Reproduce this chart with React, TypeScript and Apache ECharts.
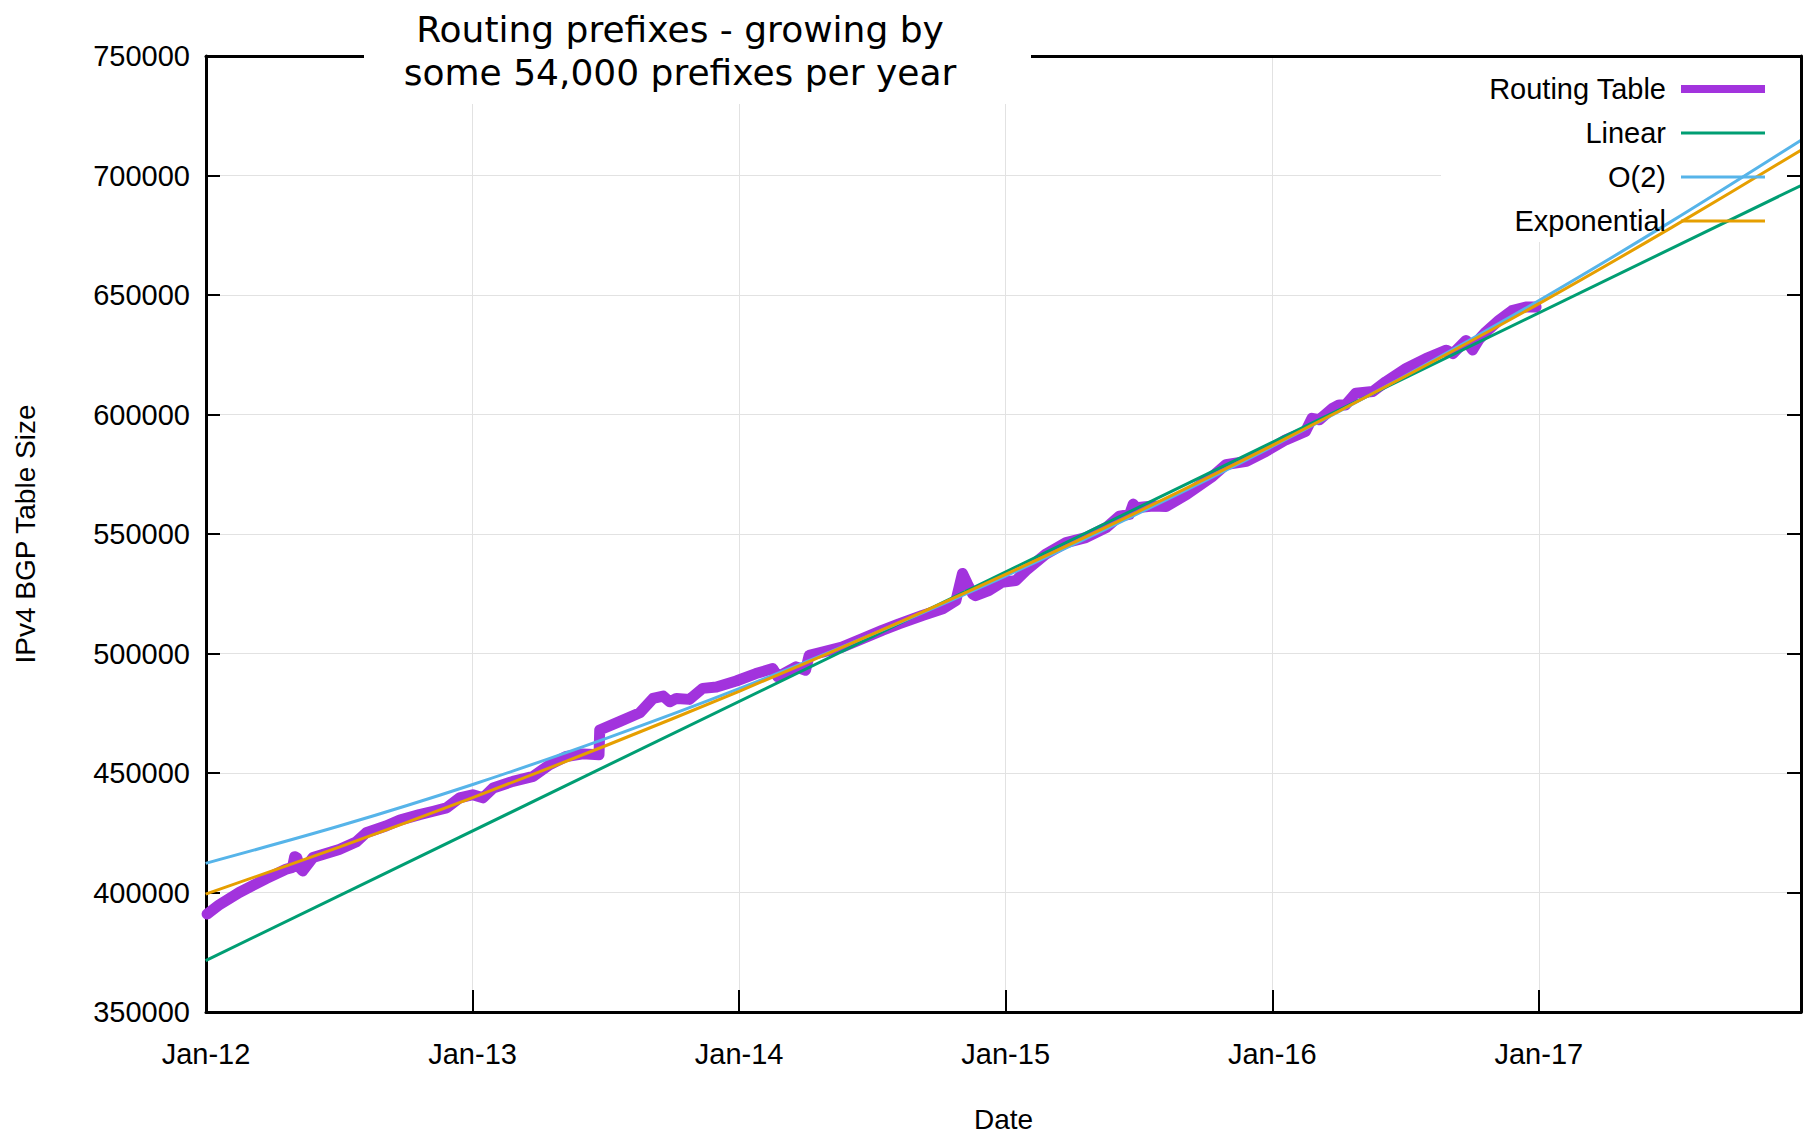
import React, { useEffect, useRef } from "react";
import * as echarts from "echarts";

// Routing table size
const routingDates = [
  "2012-01-03", "2012-01-19", "2012-02-16", "2012-03-24", "2012-04-20", "2012-04-29", "2012-05-02", "2012-05-05",
  "2012-05-09", "2012-05-13", "2012-05-27", "2012-07-02", "2012-07-25", "2012-08-08", "2012-09-04", "2012-09-23",
  "2012-10-20", "2012-11-08", "2012-11-26", "2012-12-14", "2013-01-01", "2013-01-15", "2013-01-29", "2013-02-25",
  "2013-03-25", "2013-04-16", "2013-05-09", "2013-06-01", "2013-06-23", "2013-06-24", "2013-07-21", "2013-08-18",
  "2013-09-05", "2013-09-19", "2013-09-28", "2013-10-07", "2013-10-25", "2013-11-12", "2013-12-01", "2013-12-28",
  "2014-01-24", "2014-02-16", "2014-02-23", "2014-03-20", "2014-04-02", "2014-04-07", "2014-04-25", "2014-05-22",
  "2014-06-19", "2014-07-16", "2014-08-08", "2014-09-09", "2014-10-07", "2014-10-25", "2014-11-03", "2014-11-10",
  "2014-11-17", "2014-11-21", "2014-12-09", "2014-12-27", "2015-01-15", "2015-01-29", "2015-02-25", "2015-03-25",
  "2015-04-21", "2015-05-19", "2015-06-06", "2015-06-20", "2015-06-25", "2015-06-29", "2015-07-22", "2015-08-09",
  "2015-09-06", "2015-10-12", "2015-10-30", "2015-11-27", "2015-12-24", "2016-01-20", "2016-02-16", "2016-02-25",
  "2016-03-06", "2016-03-24", "2016-04-02", "2016-04-11", "2016-04-25", "2016-05-18", "2016-06-05", "2016-07-03",
  "2016-07-30", "2016-08-27", "2016-09-05", "2016-09-23", "2016-10-02", "2016-10-11", "2016-10-20", "2016-11-07",
  "2016-11-25", "2016-12-14", "2016-12-28",
];
const routingValues = [
  391000, 394700, 400000, 405800, 409700, 410500, 415000, 414500,
  410400, 409000, 414600, 418000, 421100, 425000, 427800, 430300,
  432600, 434000, 435400, 439600, 440900, 439600, 443700, 446500,
  448600, 453400, 456900, 458000, 457600, 468000, 471500, 475200,
  481200, 482200, 479800, 481200, 480800, 485400, 486000, 488500,
  491600, 493700, 490200, 494400, 493000, 499200, 500600, 502700,
  506200, 509700, 512400, 515900, 518700, 522100, 533500, 529000,
  524900, 524200, 526300, 529800, 530500, 534700, 541500, 546400,
  548500, 552700, 557500, 558200, 562500, 561000, 561700, 561500,
  566500, 574200, 579000, 580400, 584600, 589400, 592900, 598400,
  597800, 602600, 604000, 604000, 608900, 609600, 613700, 619300,
  623400, 626900, 625500, 631000, 627000, 631500, 634500, 639400,
  643500, 645000, 645000,
];

// Fitted curves (read at half-year points)
const linearDates = ["2012-01-01", "2018-01-01"];
const linearValues = [371500, 696700];
const fitDates = [
  "2012-01-01", "2012-07-02", "2013-01-01", "2013-07-02", "2014-01-01", "2014-07-02", "2015-01-01",
  "2015-07-02", "2016-01-01", "2016-07-02", "2017-01-01", "2017-07-02", "2018-01-01",
];
const quadValues = [412200, 427800, 445200, 464400, 485300, 508000, 532400, 558600, 586500, 616200, 647700, 680900, 715900];
const expValues = [399300, 419000, 439700, 461400, 484200, 508000, 533100, 559400, 587000, 616000, 646400, 678300, 711700];

const seriesNames = ["Routing Table", "Linear", "O(2)", "Exponential"];
const seriesColors = ["#a233dd", "#009e73", "#56b4e9", "#e69f00"];
const titleLines = ["Routing prefixes - growing by", "some 54,000 prefixes per year"];
const yAxisTitle = "IPv4 BGP Table Size";
const xAxisTitle = "Date";

const YEAR_MS = 365.25 * 86400000;
const X_MIN = 42 * YEAR_MS; // Jan 2012
const X_MAX = Date.parse("2017-12-26");
const Y_MIN = 350000;
const Y_MAX = 750000;
const Y_STEP = 50000;

const FONT = "'Liberation Sans', Arial, Helvetica, sans-serif";
const TITLE_FONT = "normal 36px 'DejaVu Sans', sans-serif";

function pairs(dates: string[], values: number[]) {
  return dates.map((d, i) => [Date.parse(d), values[i]]);
}

export default function App() {
  const ref = useRef<HTMLDivElement>(null);

  useEffect(() => {
    const chart = echarts.init(ref.current!, null, { renderer: "svg" });
    const axisLine = { show: true, lineStyle: { color: "#000", width: 3 } };
    const gridColor = "#e2e2e2";
    const option: any = {
      animation: false,
      backgroundColor: "#fff",
      textStyle: { fontFamily: FONT },
      grid: { left: 206, right: 9, top: 56, bottom: 121, containLabel: false },
      xAxis: [
        {
          type: "value",
          position: "bottom",
          min: X_MIN,
          max: X_MAX,
          interval: YEAR_MS,
          axisLine,
          axisTick: { show: true, inside: true, length: 22, lineStyle: { color: "#000", width: 2 } },
          axisLabel: {
            show: true,
            showMaxLabel: false,
            margin: 27,
            fontSize: 29,
            color: "#000",
            fontFamily: FONT,
            formatter: (v: number) => {
              const y = 1970 + Math.round(v / YEAR_MS);
              return "Jan-" + String(y % 100).padStart(2, "0");
            },
          },
          splitLine: { show: true, lineStyle: { color: gridColor, width: 1 } },
          name: xAxisTitle,
          nameLocation: "middle",
          nameGap: 93,
          nameTextStyle: { fontSize: 28, color: "#000", fontFamily: FONT },
        },
        {
          type: "value",
          position: "top",
          min: X_MIN,
          max: X_MAX,
          interval: YEAR_MS,
          axisLine,
          axisTick: { show: false },
          axisLabel: { show: false },
          splitLine: { show: false },
        },
      ],
      yAxis: [
        {
          type: "value",
          position: "left",
          min: Y_MIN,
          max: Y_MAX,
          interval: Y_STEP,
          axisLine,
          axisTick: { show: true, inside: true, length: 14, lineStyle: { color: "#000", width: 2 } },
          axisLabel: {
            margin: 16,
            fontSize: 29,
            color: "#000",
            fontFamily: FONT,
            formatter: (v: number) => String(v),
          },
          splitLine: { show: true, lineStyle: { color: gridColor, width: 1 } },
          name: yAxisTitle,
          nameLocation: "middle",
          nameGap: 167,
          nameRotate: 90,
          nameTextStyle: { fontSize: 28, color: "#000", fontFamily: FONT },
        },
        {
          type: "value",
          position: "right",
          min: Y_MIN,
          max: Y_MAX,
          interval: Y_STEP,
          z: 5,
          axisLine,
          axisTick: { show: true, inside: true, length: 14, lineStyle: { color: "#000", width: 2 } },
          axisLabel: { show: false },
          splitLine: { show: false },
        },
      ],
      legend: {
        orient: "vertical",
        align: "right",
        right: 36,
        top: 69,
        itemWidth: 84,
        itemHeight: 14,
        itemGap: 14,
        selectedMode: false,
        itemStyle: { opacity: 0 },
        textStyle: { fontSize: 29, color: "#000", fontFamily: FONT, lineHeight: 30, padding: [0, 10, 0, 0] },
        data: [
          { name: seriesNames[0], lineStyle: { width: 8, color: seriesColors[0], cap: "butt" } },
          { name: seriesNames[1], lineStyle: { width: 3, color: seriesColors[1] } },
          { name: seriesNames[2], lineStyle: { width: 3, color: seriesColors[2] } },
          { name: seriesNames[3], lineStyle: { width: 3, color: seriesColors[3] } },
        ],
      },
      graphic: [
        {
          type: "rect",
          z: 1,
          silent: true,
          shape: { x: 1441, y: 58, width: 357, height: 184 },
          style: { fill: "#fff" },
        },
        {
          type: "rect",
          z: 10,
          silent: true,
          shape: { x: 364, y: 0, width: 667, height: 104 },
          style: { fill: "#fff" },
        },
        {
          type: "text",
          z: 11,
          x: 680,
          y: 29,
          style: {
            text: titleLines[0],
            fill: "#000",
            font: TITLE_FONT,
            textAlign: "center",
            textVerticalAlign: "middle",
          },
        },
        {
          type: "text",
          z: 11,
          x: 680,
          y: 72,
          style: {
            text: titleLines[1],
            fill: "#000",
            font: TITLE_FONT,
            textAlign: "center",
            textVerticalAlign: "middle",
          },
        },
      ],
      series: [
        {
          name: seriesNames[0],
          type: "line",
          symbol: "none",
          showSymbol: false,
          data: pairs(routingDates, routingValues),
          lineStyle: { color: seriesColors[0], width: 11, join: "round", cap: "round" },
          itemStyle: { color: seriesColors[0] },
          z: 2,
        },
        {
          name: seriesNames[1],
          type: "line",
          symbol: "none",
          showSymbol: false,
          data: pairs(linearDates, linearValues),
          lineStyle: { color: seriesColors[1], width: 3 },
          itemStyle: { color: seriesColors[1] },
          z: 3,
        },
        {
          name: seriesNames[2],
          type: "line",
          symbol: "none",
          showSymbol: false,
          smooth: 0.3,
          data: pairs(fitDates, quadValues),
          lineStyle: { color: seriesColors[2], width: 3 },
          itemStyle: { color: seriesColors[2] },
          z: 3,
        },
        {
          name: seriesNames[3],
          type: "line",
          symbol: "none",
          showSymbol: false,
          smooth: 0.3,
          data: pairs(fitDates, expValues),
          lineStyle: { color: seriesColors[3], width: 3 },
          itemStyle: { color: seriesColors[3] },
          z: 3,
        },
      ],
    };
    chart.setOption(option);
    return () => chart.dispose();
  }, []);

  return (
    <div
      ref={ref}
      style={{ position: "fixed", left: 0, top: 0, width: 1810, height: 1138, background: "#fff" }}
    />
  );
}
